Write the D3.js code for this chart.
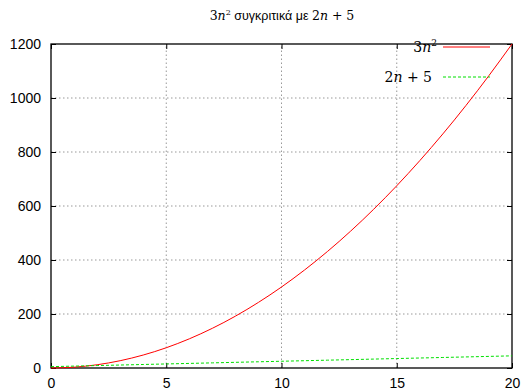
<!DOCTYPE html>
<html>
<head>
<meta charset="utf-8">
<script src="https://cdn.jsdelivr.net/npm/d3@7"></script>
<style>
  body { margin: 0; background: #fff; }
  svg { display: block; }
  .tick text { font-family: "Liberation Sans", Arial, sans-serif; font-size: 14px; fill: #000; }
  .math { font-family: "DejaVu Serif", "Liberation Serif", serif; }
</style>
</head>
<body>
<svg id="chart" width="523" height="391"></svg>
<script>
// values
const n = [0, 1, 2, 3, 4, 5, 6, 7, 8, 9, 10, 11, 12, 13, 14, 15, 16, 17, 18, 19, 20]
const squareVals = [0, 3, 12, 27, 48, 75, 108, 147, 192, 243, 300, 363, 432, 507, 588, 675, 768, 867, 972, 1083, 1200]
const linearVals = [5, 7, 9, 11, 13, 15, 17, 19, 21, 23, 25, 27, 29, 31, 33, 35, 37, 39, 41, 43, 45]
const xTicks = [0, 5, 10, 15, 20]
const yTicks = [0, 200, 400, 600, 800, 1000, 1200]

const margin = { left: 51, right: 11, top: 44, bottom: 23 }
const width = 523, height = 391
const svg = d3.select('#chart')

const x = d3.scaleLinear().domain([0, 20]).range([margin.left, width - margin.right])
const y = d3.scaleLinear().domain([0, 1200]).range([height - margin.bottom, margin.top])

// grid
const grid = svg.append('g')
grid.selectAll('line.gx')
  .data(xTicks.slice(1, -1))
  .enter().append('line')
  .attr('x1', d => x(d)).attr('x2', d => x(d))
  .attr('y1', y(0)).attr('y2', y(1200))
  .attr('stroke', '#999').attr('stroke-width', 1).attr('stroke-dasharray', '1.5,2.5')
grid.selectAll('line.gy')
  .data(yTicks.slice(1, -1))
  .enter().append('line')
  .attr('x1', x(0)).attr('x2', x(20))
  .attr('y1', d => y(d)).attr('y2', d => y(d))
  .attr('stroke', '#999').attr('stroke-width', 1).attr('stroke-dasharray', '1.5,2.5')

// axes, ticks point inward, mirrored
const tickSize = 5
const fmt = d3.format('d')
svg.append('g')
  .attr('transform', `translate(0,${y(0)})`)
  .call(d3.axisBottom(x).tickValues(xTicks).tickFormat(fmt).tickSizeInner(-tickSize).tickSizeOuter(0).tickPadding(10))
  .call(g => g.select('.domain').remove())
svg.append('g')
  .attr('transform', `translate(${x(0)},0)`)
  .call(d3.axisLeft(y).tickValues(yTicks).tickFormat(fmt).tickSizeInner(-tickSize).tickSizeOuter(0).tickPadding(10))
  .call(g => g.select('.domain').remove())
svg.append('g')
  .attr('transform', `translate(0,${y(1200)})`)
  .call(d3.axisTop(x).tickValues(xTicks).tickSizeInner(-tickSize).tickSizeOuter(0).tickFormat(''))
  .call(g => g.select('.domain').remove())
svg.append('g')
  .attr('transform', `translate(${x(20)},0)`)
  .call(d3.axisRight(y).tickValues(yTicks).tickSizeInner(-tickSize).tickSizeOuter(0).tickFormat(''))
  .call(g => g.select('.domain').remove())

svg.append('rect')
  .attr('x', x(0)).attr('y', y(1200))
  .attr('width', x(20) - x(0)).attr('height', y(0) - y(1200))
  .attr('fill', 'none').attr('stroke', '#000').attr('stroke-width', 1.3)

// series
const line = d3.line().curve(d3.curveMonotoneX)
svg.append('path')
  .attr('d', line(n.map((v, i) => [x(v), y(squareVals[i])])))
  .attr('fill', 'none').attr('stroke', '#ff0000').attr('stroke-width', 1)
svg.append('path')
  .attr('d', line(n.map((v, i) => [x(v), y(linearVals[i])])))
  .attr('fill', 'none').attr('stroke', '#00e000').attr('stroke-width', 1).attr('stroke-dasharray', '3,2')

// legend
const legend = svg.append('g').attr('class', 'math').attr('font-size', 14)
const l1 = legend.append('text').attr('x', 437).attr('y', 52).attr('text-anchor', 'end')
l1.append('tspan').text('3')
l1.append('tspan').attr('font-style', 'italic').text('n')
l1.append('tspan').attr('font-size', 9).attr('dy', -6).text('2')
legend.append('line').attr('x1', 443).attr('x2', 490).attr('y1', 47).attr('y2', 47)
  .attr('stroke', '#ff0000')
const l2 = legend.append('text').attr('x', 432).attr('y', 82).attr('text-anchor', 'end')
l2.append('tspan').text('2')
l2.append('tspan').attr('font-style', 'italic').text('n')
l2.append('tspan').text(' + 5')
legend.append('line').attr('x1', 443).attr('x2', 490).attr('y1', 77).attr('y2', 77)
  .attr('stroke', '#00e000').attr('stroke-dasharray', '3,2')

// title
const title = svg.append('text')
  .attr('x', 282).attr('y', 20).attr('text-anchor', 'middle').attr('font-size', 12.5)
title.append('tspan').attr('class', 'math').text('3')
title.append('tspan').attr('class', 'math').attr('font-style', 'italic').text('n')
title.append('tspan').attr('class', 'math').attr('font-size', 8).attr('dy', -5).text('2')
title.append('tspan').attr('dy', 5).attr('font-family', 'Liberation Sans, sans-serif').text(' συγκριτικά με ')
title.append('tspan').attr('class', 'math').text('2')
title.append('tspan').attr('class', 'math').attr('font-style', 'italic').text('n')
title.append('tspan').attr('class', 'math').text(' + 5')
</script>
</body>
</html>
